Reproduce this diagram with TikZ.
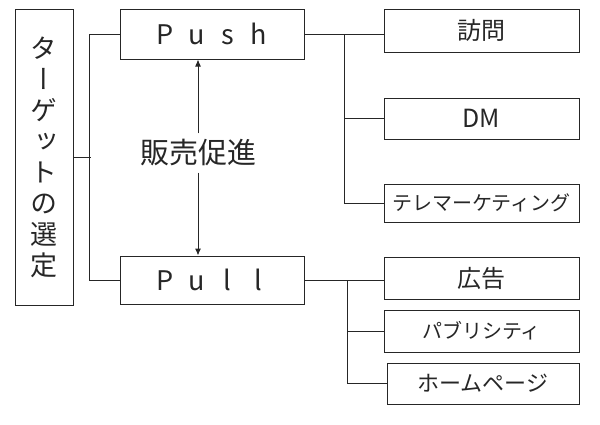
\documentclass[tikz,border=0pt]{standalone}
\usepackage{fontspec}
\setmainfont{Noto Sans CJK JP}
\newfontfamily\jpvert{Noto Sans CJK JP}[RawFeature=+vert]
\usetikzlibrary{arrows.meta}
\newcommand{\wl}[1]{\makebox[31pt]{#1}}
\tikzset{
  box/.style={draw, line width=1pt, minimum width=195pt, inner sep=0pt},
  link/.style={line width=1pt},
}
\begin{document}
\begin{tikzpicture}[x=1pt, y=-1pt, color=black!85]
  \useasboundingbox (0,0) rectangle (600,424);
  % Left box
  \node[draw, line width=1pt, minimum width=58pt, minimum height=296pt, inner sep=0pt,
        font=\jpvert\fontsize{27}{31}\selectfont, align=center]
        (target) at (44,157) {タ\\ー\\ゲ\\ッ\\ト\\の\\選\\定};
  % Push / Pull
  \node[box, minimum width=184pt, minimum height=50pt, font=\fontsize{27}{30}\selectfont]
        (push) at (212,34) {\wl{P}\wl{u}\wl{s}\wl{h}};
  \node[box, minimum width=184pt, minimum height=48pt, font=\fontsize{27}{30}\selectfont]
        (pull) at (212,280) {\wl{P}\wl{u}\wl{l}\wl{l}};
  \node[inner sep=6pt, font=\fontsize{29}{32}\selectfont] (sales) at (198,153) {販売促進};
  \draw[link] (target.east) -- ++(17,0);
  \draw[link] (push.west) -- ++(-30,0) |- (pull.west);
  \draw[link, -{Latex[length=7pt,width=6pt]}] (sales.north) -- (sales.north |- push.south);
  \draw[link, -{Latex[length=7pt,width=6pt]}] (sales.south) -- (sales.south |- pull.north);
  % Push side
  \node[box, minimum height=43pt, font=\fontsize{24}{26}\selectfont] (visit) at (481.5,30.5) {訪問};
  \node[box, minimum height=41pt, font=\fontsize{25}{26}\selectfont] (dm) at (481.5,118.5) {DM};
  \node[box, minimum height=38pt, font=\fontsize{20}{22}\selectfont] (tele) at (481.5,203) {テレマーケティング};
  \coordinate (pfork) at (push.east -| 344,0);
  \draw[link] (push.east) -- (visit.west |- push.east);
  \draw[link] (pfork) |- (dm.west);
  \draw[link] (pfork) |- (tele.west);
  % Pull side
  \node[box, minimum height=42pt, font=\fontsize{24}{26}\selectfont] (ad) at (481.5,278) {広告};
  \node[box, minimum height=42pt, font=\fontsize{20}{22}\selectfont] (pub) at (481.5,331) {パブリシティ};
  \node[box, minimum width=192pt, minimum height=41pt, font=\fontsize{22}{24}\selectfont] (home) at (483,383.5) {ホームページ};
  \coordinate (qfork) at (pull.east -| 347,0);
  \draw[link] (pull.east) -- (ad.west |- pull.east);
  \draw[link] (qfork) |- (pub.west);
  \draw[link] (qfork) |- (home.west);
\end{tikzpicture}
\end{document}
